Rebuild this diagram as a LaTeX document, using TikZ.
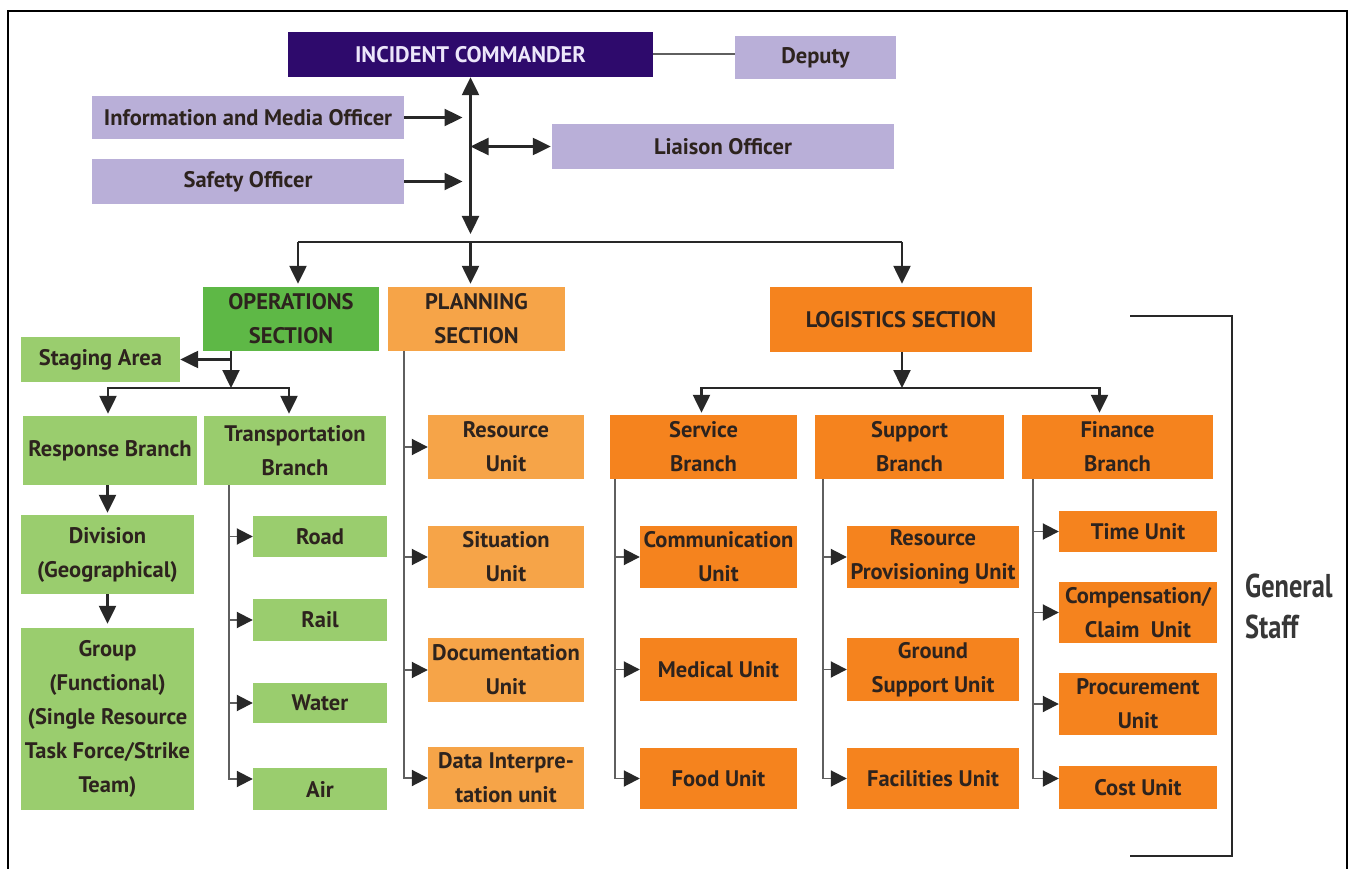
\documentclass[tikz,border=0pt]{standalone}
\usepackage{fontspec}
\setmainfont{PT Sans}
\newfontfamily\gsfont{PT Sans}[FakeStretch=0.8]
\usetikzlibrary{arrows.meta,calc}
\definecolor{icpurple}{RGB}{46,10,108}
\definecolor{lpurple}{RGB}{185,175,216}
\definecolor{opsgreen}{RGB}{94,184,70}
\definecolor{lgreen}{RGB}{154,205,110}
\definecolor{lorange}{RGB}{246,164,72}
\definecolor{dorange}{RGB}{245,131,30}
\definecolor{txt}{RGB}{45,35,30}
\definecolor{ln}{RGB}{40,40,40}
\definecolor{lngray}{RGB}{95,95,95}
\definecolor{ictext}{RGB}{236,230,250}
\definecolor{gstext}{RGB}{55,55,55}
\begin{document}
\begin{tikzpicture}[x=1pt,y=-1pt,
  box/.style={rectangle, inner sep=0pt, align=center, text=txt,
    font=\fontsize{22.5}{34}\selectfont\bfseries},
  purplebox/.style={box, fill=lpurple},
  greenbox/.style={box, fill=lgreen},
  lorbox/.style={box, fill=lorange},
  orbox/.style={box, fill=dorange},
  conn/.style={draw=ln, line width=2.4pt},
  stem/.style={draw=lngray, line width=1.9pt},
  arr/.style={conn, -{Triangle[length=18pt,width=17pt]}},
  sarr/.style={stem, -{Triangle[length=16pt,width=16pt,color=ln]}},
  darr/.style={conn, {Triangle[length=18pt,width=17pt]}-{Triangle[length=18pt,width=17pt]}},
  frame/.style={draw=black, line width=2pt},
  brack/.style={draw=ln, line width=1.6pt}]
\useasboundingbox (0,0) rectangle (1353,869);
\fill[white] (0,0) rectangle (1353,869);
\draw[frame] (8,869) -- (8,11) -- (1347,11) -- (1347,869);

% top level
\node[box, fill=icpurple, text=ictext, minimum width=365pt, minimum height=45pt] (ic) at (470.5,54.5) {INCIDENT COMMANDER};
\node[purplebox, minimum width=161pt, minimum height=43pt] (deputy) at (815.5,57.5) {Deputy};
\node[purplebox, minimum width=312pt, minimum height=43pt] (info) at (248,117.5) {Information and Media Officer};
\node[purplebox, minimum width=312pt, minimum height=45pt] (safety) at (248,181.5) {Safety Officer};
\node[purplebox, minimum width=342pt, minimum height=45pt] (liaison) at (723,146.5) {Liaison Officer};

% sections
\node[box, fill=opsgreen, minimum width=176pt, minimum height=64pt] (ops) at (291,319) {OPERATIONS\\SECTION};
\node[lorbox, minimum width=177pt, minimum height=64pt] (plan) at (476.5,319) {PLANNING\\SECTION};
\node[orbox, minimum width=262pt, minimum height=65pt] (log) at (901,319.5) {LOGISTICS SECTION};

% operations
\node[greenbox, minimum width=159pt, minimum height=45pt] (stag) at (100.5,359.5) {Staging Area};
\node[greenbox, minimum width=174pt, minimum height=69pt] (resp) at (110,450.5) {Response Branch};
\node[greenbox, minimum width=182pt, minimum height=69pt] (trans) at (295,450.5) {Transportation\\Branch};
\node[greenbox, minimum width=173pt, minimum height=79pt] (div) at (107.5,554.5) {Division\\(Geographical)};
\node[greenbox, minimum width=173pt, minimum height=182pt] (grp) at (107.5,719) {Group\\(Functional)\\(Single Resource\\Task Force/Strike\\Team)};
\node[greenbox, minimum width=134pt, minimum height=41pt] (road) at (320,536.5) {Road};
\node[greenbox, minimum width=134pt, minimum height=42pt] (rail) at (320,620) {Rail};
\node[greenbox, minimum width=134pt, minimum height=40pt] (water) at (320,703) {Water};
\node[greenbox, minimum width=134pt, minimum height=42pt] (air) at (320,789) {Air};

% planning
\node[lorbox, minimum width=156pt, minimum height=64pt] (res) at (506,447) {Resource\\Unit};
\node[lorbox, minimum width=156pt, minimum height=62pt] (sit) at (506,557) {Situation\\Unit};
\node[lorbox, minimum width=156pt, minimum height=64pt] (doc) at (506,670) {Documentation\\Unit};
\node[lorbox, minimum width=156pt, minimum height=62pt] (dat) at (506,778) {Data Interpre-\\tation unit};

% logistics branches
\node[orbox, minimum width=187pt, minimum height=64pt] (svc) at (703.5,447) {Service\\Branch};
\node[orbox, minimum width=189pt, minimum height=64pt] (sup) at (909.5,447) {Support\\Branch};
\node[orbox, minimum width=191pt, minimum height=64pt] (fin) at (1117.5,447) {Finance\\Branch};

\node[orbox, minimum width=157pt, minimum height=62pt] (com) at (718.5,557) {Communication\\Unit};
\node[orbox, minimum width=157pt, minimum height=63pt] (med) at (718.5,669.5) {Medical Unit};
\node[orbox, minimum width=157pt, minimum height=61pt] (food) at (718.5,778.5) {Food Unit};

\node[orbox, minimum width=172pt, minimum height=62pt] (rpu) at (933,557) {Resource\\Provisioning Unit};
\node[orbox, minimum width=172pt, minimum height=63pt] (gsu) at (933,669.5) {Ground\\Support Unit};
\node[orbox, minimum width=172pt, minimum height=61pt] (fac) at (933,778.5) {Facilities Unit};

\node[orbox, minimum width=158pt, minimum height=41pt] (time) at (1138,531.5) {Time Unit};
\node[orbox, minimum width=158pt, minimum height=61pt] (comp) at (1138,612.5) {Compensation/\\Claim\ \ Unit};
\node[orbox, minimum width=158pt, minimum height=62pt] (proc) at (1138,704) {Procurement\\Unit};
\node[orbox, minimum width=158pt, minimum height=43pt] (cost) at (1138,787.5) {Cost Unit};

\node[anchor=west, inner sep=0pt, align=left, text=gstext, font=\gsfont\fontsize{33}{41}\selectfont\bfseries] (gs) at (1245,606) {General\\Staff};

% coordinates
\coordinate (hub) at (470.5,242);
\coordinate (barL) at (298,242);
\coordinate (barR) at (902,242);
\coordinate (os) at (231,351);
\coordinate (obar) at (231,388);
\coordinate (ts) at (229,485);
\coordinate (ps) at (404,351);
\coordinate (lbar) at (902,388);
\coordinate (ss) at (615,479);
\coordinate (us) at (823,479);
\coordinate (fs) at (1033,479);

% top connectors
\draw[conn, line width=2pt, draw=lngray] (ic.east) -- (ic.east -| deputy.west);
\draw[darr] (ic.south) -- ([yshift=8pt]hub);
\draw[conn] (barL) -- (barR);
\draw[arr, shorten >=3pt] (barL) -- (barL |- ops.north);
\draw[arr, shorten >=3pt] (hub) -- (hub |- plan.north);
\draw[arr, shorten >=3pt] (barR) -- (barR |- log.north);
\draw[arr, shorten >=8pt] (info.east) -- (info.east -| hub);
\draw[arr, shorten >=8pt] (safety.east) -- (safety.east -| hub);
\draw[darr, shorten >=1pt] (liaison.west -| hub) -- (liaison.west);

% operations connectors
\draw[arr] (os) -- (obar);
\draw[arr] (os |- stag.east) -- (stag.east);
\draw[arr, shorten >=2pt] (obar) -| ([xshift=-2pt]resp.north);
\draw[arr, shorten >=2pt] (obar) -| ([xshift=-6pt]trans.north);
\draw[arr, shorten >=2pt] (div.north |- resp.south) -- (div.north);
\draw[arr, shorten >=4pt] (div.south) -- (grp.north);
\draw[sarr] (ts) |- ([yshift=10pt]air.west);
\draw[sarr] (ts |- road.west) -- (road.west);
\draw[sarr] (ts |- rail.west) -- (rail.west);
\draw[sarr] (ts |- water.west) -- (water.west);

% planning connectors
\draw[sarr] (ps) |- (dat.west);
\draw[sarr] (ps |- res.west) -- (res.west);
\draw[sarr] (ps |- sit.west) -- (sit.west);
\draw[sarr] (ps |- doc.west) -- (doc.west);

% logistics connectors
\draw[arr] (log.south -| lbar) -- (lbar);
\draw[arr, shorten >=2pt] (lbar) -| ([xshift=-2pt]svc.north);
\draw[arr, shorten >=2pt] (lbar) -| ([xshift=-18pt]fin.north);

\draw[sarr] (ss) |- (food.west);
\draw[sarr] (ss |- com.west) -- (com.west);
\draw[sarr] (ss |- med.west) -- (med.west);

\draw[sarr] (us) |- (fac.west);
\draw[sarr] (us |- rpu.west) -- (rpu.west);
\draw[sarr] (us |- gsu.west) -- (gsu.west);

\draw[sarr] (fs) |- ([yshift=9pt]cost.west);
\draw[sarr] (fs |- time.west) -- (time.west);
\draw[sarr] (fs |- comp.west) -- (comp.west);
\draw[sarr] (fs |- proc.west) -- (proc.west);

% general staff bracket
\draw[brack] (1130,316) -- (1232,316) -- (1232,856) -- (1130,856);
\end{tikzpicture}
\end{document}
